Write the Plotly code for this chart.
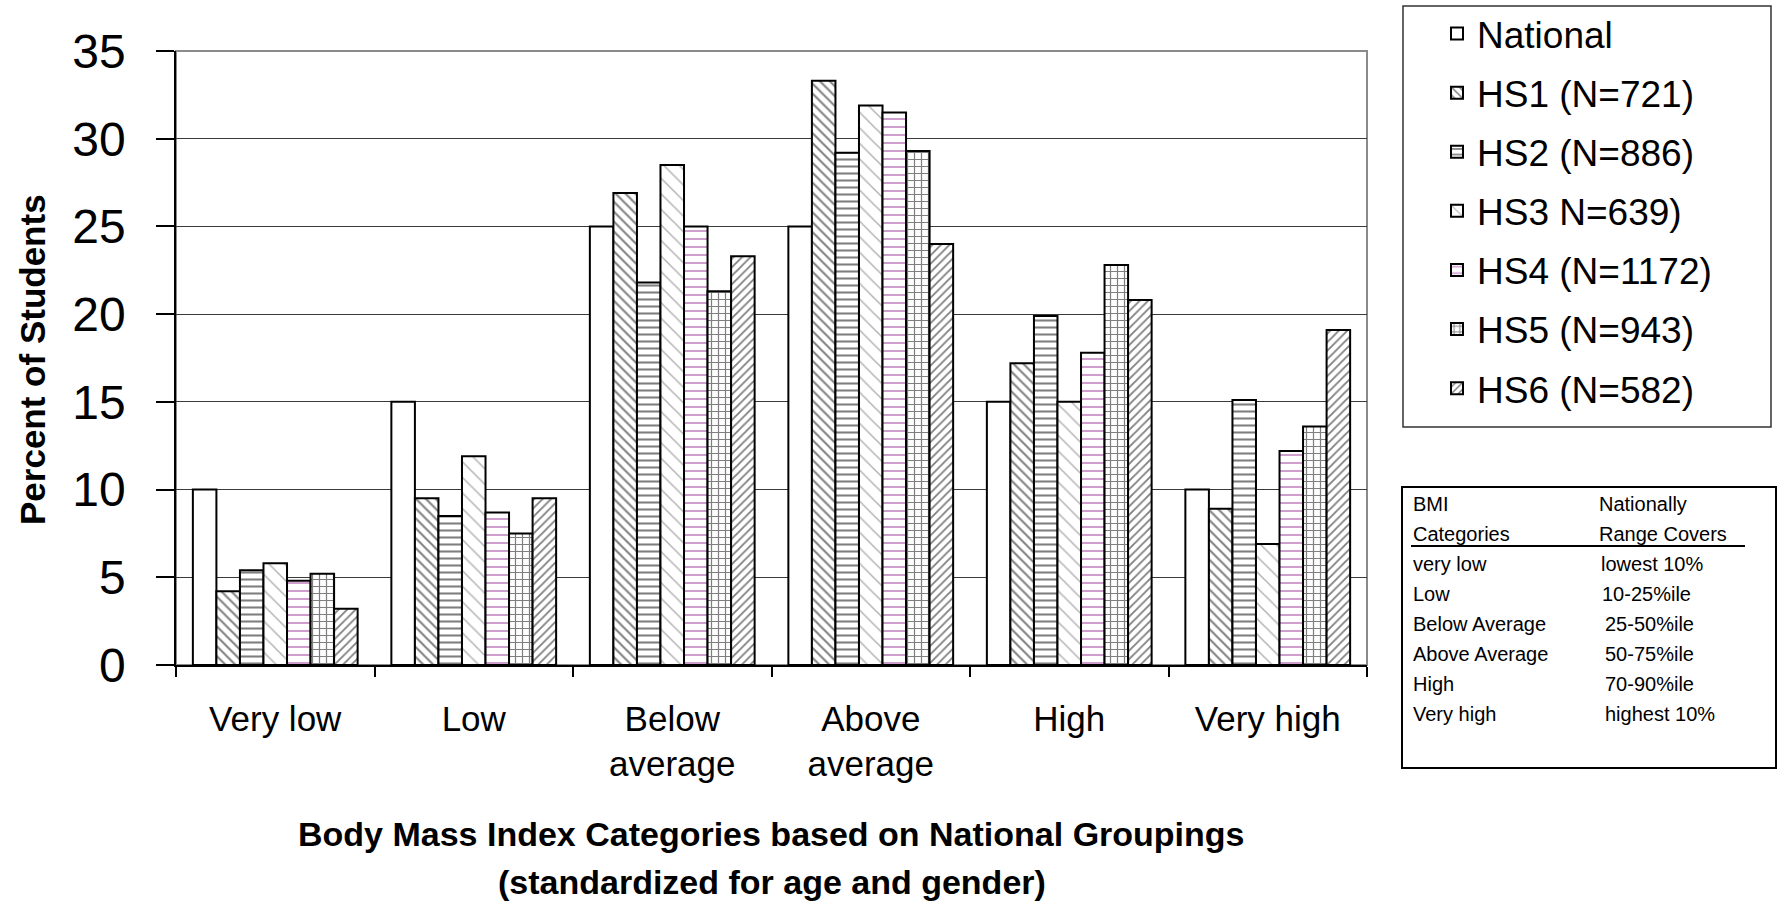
import plotly.graph_objects as go

# Body Mass Index categories (x axis)
categories = ["Very low", "Low", "Below<br>average", "Above<br>average", "High", "Very high"]

# Percent of students per BMI category
national = [10.0, 15.0, 25.0, 25.0, 15.0, 10.0]
hs1 = [4.2, 9.5, 26.9, 33.3, 17.2, 8.9]
hs2 = [5.4, 8.5, 21.8, 29.2, 19.9, 15.1]
hs3 = [5.8, 11.9, 28.5, 31.9, 15.0, 6.9]
hs4 = [4.8, 8.7, 25.0, 31.5, 17.8, 12.2]
hs5 = [5.2, 7.5, 21.3, 29.3, 22.8, 13.6]
hs6 = [3.2, 9.5, 23.3, 24.0, 20.8, 19.1]

series_names = ["National", "HS1 (N=721)", "HS2 (N=886)", "HS3 N=639)",
                "HS4 (N=1172)", "HS5 (N=943)", "HS6 (N=582)"]
series_values = [national, hs1, hs2, hs3, hs4, hs5, hs6]

# Key table shown beside the chart
table_header_left = ["BMI", "Categories"]
table_header_right = ["Nationally", "Range Covers"]
table_rows_left = ["very low", "Low", "Below Average", "Above Average", "High", "Very high"]
table_rows_right = ["lowest 10%", "10-25%ile", "25-50%ile", "50-75%ile", "70-90%ile", "highest 10%"]

# Fill patterns for each series
patterns = [
    dict(shape="", fgcolor="black", bgcolor="white"),
    dict(shape="\\", fgcolor="black", bgcolor="white", size=7, solidity=0.28),
    dict(shape="-", fgcolor="black", bgcolor="white", size=7, solidity=0.3),
    dict(shape="\\", fgcolor="#6a6a6a", bgcolor="white", size=11, solidity=0.14),
    dict(shape="-", fgcolor="#993399", bgcolor="white", size=8, solidity=0.24),
    dict(shape="+", fgcolor="black", bgcolor="white", size=7, solidity=0.32),
    dict(shape="/", fgcolor="black", bgcolor="white", size=6, solidity=0.3),
]

FONT = "Liberation Sans, Arial, sans-serif"
W, H = 1782, 903
L, R, T, B = 176, 415, 51, 238
PW, PH = W - L - R, H - T - B


def px_x(x):
    return (x - L) / PW


def px_y(y):
    return (H - B - y) / PH


fig = go.Figure()
for i, (name, vals, pat) in enumerate(zip(series_names, series_values, patterns)):
    fig.add_trace(go.Bar(
        x=categories, y=vals, name=name, legendgroup=f"g{i}",
        marker=dict(color="white", line=dict(color="black", width=2), pattern=pat),
    ))

fig.update_layout(
    width=W, height=H,
    margin=dict(l=L, r=R, t=T, b=B, autoexpand=False),
    paper_bgcolor="white", plot_bgcolor="white",
    barmode="group", bargap=0.17, bargroupgap=0,
    font=dict(family=FONT, color="black"),
    showlegend=True,
    legend=dict(
        x=px_x(1437), y=px_y(3), xanchor="left", yanchor="top",
        font=dict(size=37, family=FONT, color="black"),
        bgcolor="rgba(0,0,0,0)", borderwidth=0,
        tracegroupgap=8, traceorder="grouped",
    ),
)

fig.update_xaxes(
    type="category", tickson="boundaries", ticks="outside", ticklen=10,
    tickcolor="black", tickwidth=1.5, showline=True, linecolor="black", linewidth=1.5,
    tickfont=dict(size=35, family=FONT), showgrid=False, ticklabelstandoff=22,
)
fig.update_yaxes(
    range=[0, 35], dtick=5, ticks="outside", ticklen=18, tickcolor="black", tickwidth=1.5,
    showline=True, linecolor="black", linewidth=1.5, showgrid=True, gridcolor="#3a3a3a",
    gridwidth=1, zeroline=False, tickfont=dict(size=48, family=FONT), ticklabelstandoff=21,
)

# plot-area frame (grey top and right edges)
fig.add_shape(type="rect", xref="paper", yref="paper", x0=0, x1=1, y0=0, y1=1,
              line=dict(color="#8a8a8a", width=2), layer="below")

# legend frame
fig.add_shape(type="rect", xref="paper", yref="paper",
              x0=px_x(1403), x1=px_x(1771), y0=px_y(427), y1=px_y(6),
              line=dict(color="#333333", width=1.5))

# key table frame and header underline
fig.add_shape(type="rect", xref="paper", yref="paper",
              x0=px_x(1402), x1=px_x(1776), y0=px_y(768), y1=px_y(487),
              line=dict(color="black", width=2))
fig.add_shape(type="line", xref="paper", yref="paper",
              x0=px_x(1411), x1=px_x(1745), y0=px_y(546), y1=px_y(546),
              line=dict(color="black", width=2))

annotations = []
row_y = [504, 534, 564, 594, 624, 654, 684, 714]
left_texts = table_header_left + table_rows_left
right_texts = table_header_right + table_rows_right
right_x = [1597, 1597, 1599, 1600, 1603, 1603, 1603, 1603]
for yy, lt, rt, rx in zip(row_y, left_texts, right_texts, right_x):
    annotations.append(dict(x=px_x(1411), y=px_y(yy), xref="paper", yref="paper",
                            text=lt, showarrow=False, xanchor="left", yanchor="middle",
                            font=dict(size=20, family=FONT)))
    annotations.append(dict(x=px_x(rx), y=px_y(yy), xref="paper", yref="paper",
                            text=rt, showarrow=False, xanchor="left", yanchor="middle",
                            font=dict(size=20, family=FONT)))

# axis titles
annotations.append(dict(x=px_x(32), y=px_y(360), xref="paper", yref="paper",
                        text="<b>Percent of Students</b>", textangle=-90, showarrow=False,
                        xanchor="center", yanchor="middle", font=dict(size=35, family=FONT)))
annotations.append(dict(x=0.5, y=px_y(834), xref="paper", yref="paper",
                        text="<b>Body Mass Index Categories based on National Groupings</b>",
                        showarrow=False, xanchor="center", yanchor="middle",
                        font=dict(size=34, family=FONT)))
annotations.append(dict(x=0.5, y=px_y(882), xref="paper", yref="paper",
                        text="<b>(standardized for age and gender)</b>",
                        showarrow=False, xanchor="center", yanchor="middle",
                        font=dict(size=34, family=FONT)))
fig.update_layout(annotations=annotations)

fig.write_html("out.html")
